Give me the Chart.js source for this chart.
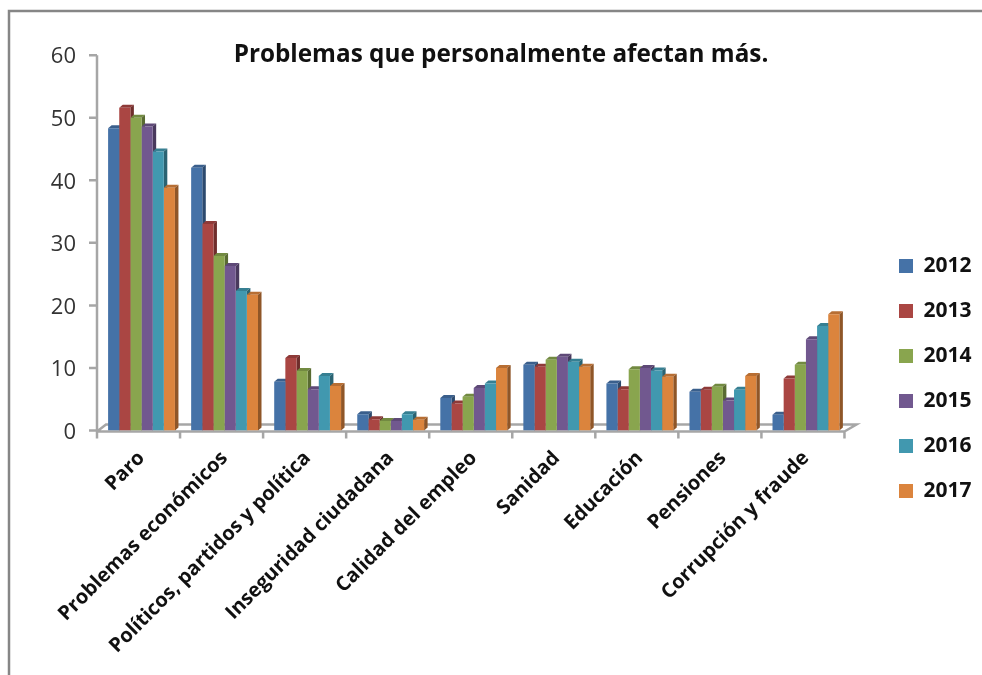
<!DOCTYPE html>
<html>
<head>
<meta charset="utf-8">
<script src="https://cdn.jsdelivr.net/npm/chart.js@4"></script>
<style>
  html, body { margin: 0; padding: 0; background: #fff; overflow: hidden; }
  #wrap { width: 982px; height: 675px; }
</style>
</head>
<body>
<div id="wrap"><canvas id="chart" width="982" height="675"></canvas></div>
<script>
const categories = ['Paro', 'Problemas económicos', 'Políticos, partidos y política', 'Inseguridad ciudadana',
    'Calidad del empleo', 'Sanidad', 'Educación', 'Pensiones', 'Corrupción y fraude'];
const years = ['2012', '2013', '2014', '2015', '2016', '2017'];

const values2012 = [48.3, 42.0, 7.8, 2.6, 5.2, 10.5, 7.5, 6.2, 2.5];
const values2013 = [51.6, 33.0, 11.6, 1.8, 4.3, 10.2, 6.6, 6.5, 8.3];
const values2014 = [50.0, 27.9, 9.5, 1.5, 5.4, 11.3, 9.8, 7.0, 10.5];
const values2015 = [48.6, 26.3, 6.6, 1.5, 6.8, 11.8, 10.0, 4.8, 14.6];
const values2016 = [44.6, 22.3, 8.7, 2.6, 7.5, 11.0, 9.6, 6.5, 16.7];
const values2017 = [38.8, 21.7, 7.1, 1.7, 10.0, 10.2, 8.6, 8.7, 18.6];
const allValues = [values2012, values2013, values2014, values2015, values2016, values2017];

const faceColors = ['#4572A7', '#AA4643', '#89A54E', '#71588F', '#4198AF', '#DB843D'];
const sideColors = ['#2C4A6E', '#6F2E2C', '#596B32', '#49395D', '#2A6372', '#8F5628'];
const topColors = ['#3A5F8C', '#8E3A38', '#728A41', '#5E4977', '#367F92', '#B76E33'];

const fontName = '"Open Sans", "Noto Sans", sans-serif';
const axisColor = '#A6A6A6';
const DEPTH_X = 3.5;
const DEPTH_Y = 3;
const AXIS_SHIFT = 3;   // el eje va un poco a la izquierda de las barras
const FLOOR_X = 9;
const FLOOR_Y = 7;

const poly = (ctx, pts, color) => {
    ctx.fillStyle = color;
    ctx.beginPath();
    pts.forEach((p, i) => i ? ctx.lineTo(p[0], p[1]) : ctx.moveTo(p[0], p[1]));
    ctx.closePath();
    ctx.fill();
};

// Marco, ejes, suelo y caras superior y lateral de cada barra (efecto 3D)
const framePlugin = {
    id: 'frame',
    beforeDatasetsDraw(chart) {
        const ctx = chart.ctx;
        const { y } = chart.scales;
        const left = chart.chartArea.left - AXIS_SHIFT;
        const right = chart.chartArea.right - AXIS_SHIFT;
        const y0 = y.getPixelForValue(0);
        const top = y.getPixelForValue(60);
        ctx.save();
        ctx.strokeStyle = '#868686';
        ctx.lineWidth = 2.5;
        ctx.beginPath();
        ctx.moveTo(9, chart.height);
        ctx.lineTo(9, 11);
        ctx.lineTo(chart.width, 11);
        ctx.stroke();

        ctx.strokeStyle = axisColor;
        ctx.lineWidth = 2.5;
        ctx.beginPath();
        ctx.moveTo(left, top);
        ctx.lineTo(left, y0 + 1);
        y.ticks.forEach(t => {
            const py = y.getPixelForValue(t.value);
            ctx.moveTo(left - 8, py);
            ctx.lineTo(left, py);
        });
        ctx.moveTo(left, y0 + 1);
        ctx.lineTo(right, y0 + 1);
        ctx.moveTo(left, y0 + 1);
        ctx.lineTo(left + FLOOR_X, y0 + 1 - FLOOR_Y);
        ctx.lineTo(right + FLOOR_X + 3, y0 + 1 - FLOOR_Y);
        ctx.lineTo(right, y0 + 1);
        const step = (right - left) / categories.length;
        for (let i = 0; i <= categories.length; i++) {
            ctx.moveTo(left + step * i, y0 + 1);
            ctx.lineTo(left + step * i, y0 + 8);
        }
        ctx.stroke();

        years.forEach((year, i) => {
            chart.getDatasetMeta(i).data.forEach(bar => {
                const l = bar.x - bar.width / 2;
                const r = bar.x + bar.width / 2;
                const t = bar.y;
                poly(ctx, [[l, t], [l + DEPTH_X, t - DEPTH_Y], [r + DEPTH_X, t - DEPTH_Y], [r, t]], topColors[i]);
                poly(ctx, [[r, t], [r + DEPTH_X, t - DEPTH_Y], [r + DEPTH_X, y0 - DEPTH_Y], [r, y0]], sideColors[i]);
            });
        });
        ctx.restore();
    },
    afterLayout(chart) {
        // título y leyenda sobre su sitio real
        const t = chart.titleBlock;
        t.left += 24; t.right += 24; t.top += 14;
        const lg = chart.legend;
        const w = lg.right - lg.left;
        lg.left = 875; lg.right = lg.left + w;
        lg.top += 41; lg.bottom += 41;
    }
};

const datasets = years.map((year, i) => ({
    label: year,
    data: allValues[i],
    backgroundColor: faceColors[i],
    borderWidth: 0,
    barPercentage: 1,
    categoryPercentage: 0.805
}));

new Chart(document.getElementById('chart'), {
    type: 'bar',
    data: { labels: categories, datasets },
    plugins: [framePlugin],
    options: {
        responsive: false,
        animation: false,
        layout: { padding: { left: 0, right: 28, top: 0, bottom: 0 } },
        plugins: {
            title: {
                display: true,
                text: 'Problemas que personalmente afectan más.',
                color: '#111',
                font: { family: fontName, size: 24.3, weight: 'bold' },
                padding: { top: 26, bottom: 0 }
            },
            legend: {
                position: 'right',
                labels: {
                    boxWidth: 14,
                    boxHeight: 14,
                    padding: 24,
                    color: '#111',
                    font: { family: fontName, size: 21, weight: 'bold' }
                }
            },
            tooltip: { enabled: false }
        },
        scales: {
            x: {
                grid: { display: false },
                border: { display: false },
                afterFit: scale => { scale.height = 244.5; },
                ticks: {
                    autoSkip: false,
                    minRotation: 45,
                    maxRotation: 45,
                    padding: 8,
                    color: '#111',
                    font: { family: fontName, size: 20, weight: 'bold' }
                }
            },
            y: {
                min: 0,
                max: 60,
                grid: { display: false, drawTicks: false },
                border: { display: false },
                afterFit: scale => { scale.width = 100; },
                ticks: {
                    stepSize: 10,
                    padding: 24,
                    labelOffset: 2,
                    color: '#333',
                    font: { family: fontName, size: 22 }
                }
            }
        }
    }
});
</script>
</body>
</html>
